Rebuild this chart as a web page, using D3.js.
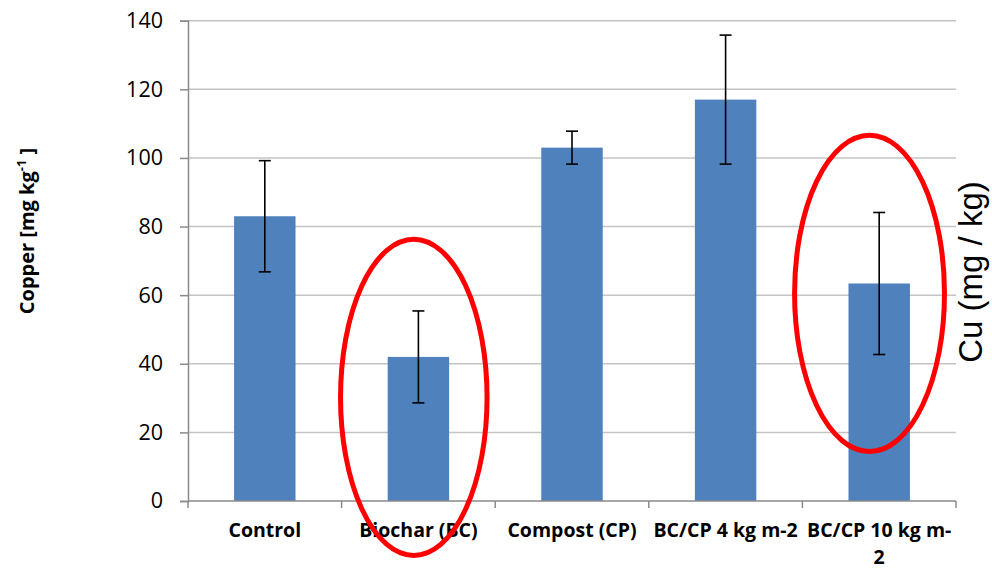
<!DOCTYPE html>
<html>
<head>
<meta charset="utf-8">
<script src="https://cdn.jsdelivr.net/npm/d3@7"></script>
<style>
  html, body { margin: 0; padding: 0; background: #fff; }
  svg { display: block; }
</style>
</head>
<body>
<svg id="chart" width="992" height="570"></svg>
<script>
// Copper content per treatment, with standard deviation error bars
const categories = ["Control", "Biochar (BC)", "Compost (CP)", "BC/CP 4 kg m-2", "BC/CP 10 kg m-2"];
const labelLines = [["Control"], ["Biochar (BC)"], ["Compost (CP)"], ["BC/CP 4 kg m-2"], ["BC/CP 10 kg m-", "2"]];
const copper = [83.0, 42.0, 103.0, 117.0, 63.4];
const errors = [16.2, 13.4, 4.8, 18.8, 20.7];
const yTicks = [0, 20, 40, 60, 80, 100, 120, 140];
// Highlight rings: horizontal span in category units, vertical span in mg/kg
const highlights = [
  { from: 0.993, to: 1.947, top: 76.3, bottom: -15.9 },
  { from: 3.949, to: 4.925, top: 106.6, bottom: 14.4 }
];

const svg = d3.select("#chart");
const plotLeft = 188, plotRight = 956, plotTop = 20.7, plotBottom = 501;
const fontUI = "'Open Sans', 'Noto Sans', sans-serif";

const x = d3.scaleBand().domain(categories).range([plotLeft, plotRight])
  .paddingInner(0.6).paddingOuter(0.3);
const xUnit = d3.scaleLinear().domain([0, categories.length]).range([plotLeft, plotRight]);
const y = d3.scaleLinear().domain([0, 140]).range([plotBottom, plotTop]);

// horizontal gridlines
svg.append("g").selectAll("line").data(yTicks.filter(d => d > 0)).join("line")
  .attr("x1", plotLeft).attr("x2", plotRight)
  .attr("y1", d => y(d)).attr("y2", d => y(d))
  .attr("stroke", "#c4c4c4").attr("stroke-width", 1.5);

// y axis
const yAxis = svg.append("g").attr("transform", `translate(${plotLeft},0)`)
  .call(d3.axisLeft(y).tickValues(yTicks).tickSize(8).tickPadding(17));
yAxis.select(".domain").attr("stroke", "#8a8a8a").attr("stroke-width", 1.5);
yAxis.selectAll(".tick line").attr("stroke", "#8a8a8a").attr("stroke-width", 1.5);
yAxis.selectAll(".tick text")
  .attr("font-family", fontUI)
  .attr("font-size", 21.5).attr("fill", "#000");

// bars
svg.append("g").selectAll("rect").data(categories).join("rect")
  .attr("x", d => x(d)).attr("width", x.bandwidth())
  .attr("y", (d, i) => y(copper[i]))
  .attr("height", (d, i) => y(0) - y(copper[i]))
  .attr("fill", "#4f81bd");

// error bars
const eb = svg.append("g").attr("stroke", "#000").attr("stroke-width", 1.6);
categories.forEach((c, i) => {
  const cx = x(c) + x.bandwidth() / 2;
  const hi = y(copper[i] + errors[i]), lo = y(copper[i] - errors[i]);
  eb.append("line").attr("x1", cx).attr("x2", cx).attr("y1", hi).attr("y2", lo);
  eb.append("line").attr("x1", cx - 6).attr("x2", cx + 6).attr("y1", hi).attr("y2", hi);
  eb.append("line").attr("x1", cx - 6).attr("x2", cx + 6).attr("y1", lo).attr("y2", lo);
});

// x axis with boundary ticks
const xg = svg.append("g");
xg.append("line").attr("x1", plotLeft).attr("x2", plotRight).attr("y1", plotBottom).attr("y2", plotBottom)
  .attr("stroke", "#8a8a8a").attr("stroke-width", 1.5);
xg.selectAll("line.tk").data(d3.range(categories.length + 1)).join("line").attr("class", "tk")
  .attr("x1", i => xUnit(i)).attr("x2", i => xUnit(i))
  .attr("y1", plotBottom).attr("y2", plotBottom + 7)
  .attr("stroke", "#8a8a8a").attr("stroke-width", 1.5);

// category labels (long last label wraps onto a second line)
const lab = svg.append("g")
  .attr("font-family", fontUI)
  .attr("font-weight", "bold").attr("font-size", 19.5)
  .attr("text-anchor", "middle").attr("fill", "#000");
categories.forEach((c, i) => {
  const cx = x(c) + x.bandwidth() / 2;
  labelLines[i].forEach((ln, k) => {
    lab.append("text").attr("x", cx).attr("y", 537 + k * 26.8).text(ln);
  });
});

// red highlight rings
svg.append("g").selectAll("ellipse").data(highlights).join("ellipse")
  .attr("cx", d => (xUnit(d.from) + xUnit(d.to)) / 2)
  .attr("cy", d => (y(d.top) + y(d.bottom)) / 2)
  .attr("rx", d => (xUnit(d.to) - xUnit(d.from)) / 2)
  .attr("ry", d => (y(d.bottom) - y(d.top)) / 2)
  .attr("fill", "none").attr("stroke", "#ff0000").attr("stroke-width", 5);

// y axis title
const yt = svg.append("text")
  .attr("transform", "translate(34,231) rotate(-90)")
  .attr("text-anchor", "middle")
  .attr("font-family", fontUI)
  .attr("font-weight", "bold").attr("font-size", 20).attr("fill", "#000");
yt.append("tspan").text("Copper [mg kg");
yt.append("tspan").attr("dy", -8).attr("font-size", 13).text("-1");
yt.append("tspan").attr("dy", 8).text(" ]");

// right-hand unit label
svg.append("text")
  .attr("transform", "translate(982,272) rotate(-90)")
  .attr("text-anchor", "middle")
  .attr("font-family", "'Liberation Sans', Arial, sans-serif")
  .attr("font-size", 33).attr("fill", "#000")
  .text("Cu (mg / kg)");
</script>
</body>
</html>
